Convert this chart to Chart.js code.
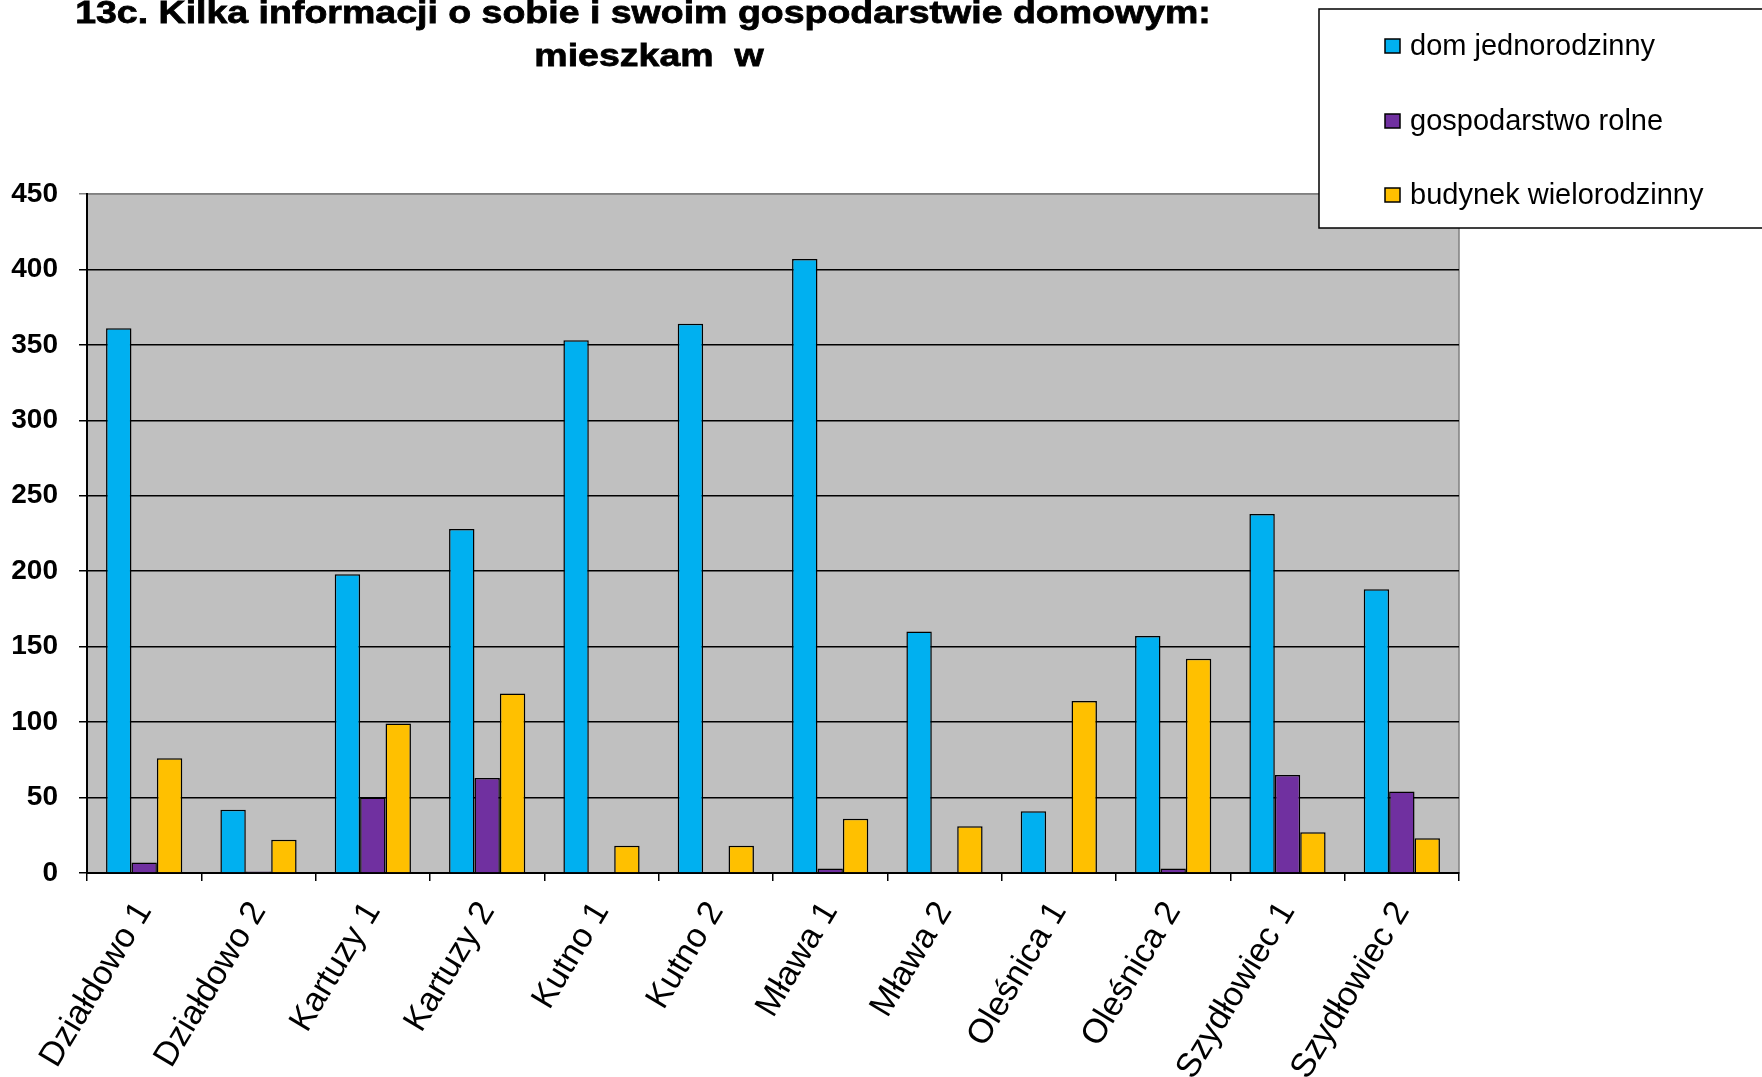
<!DOCTYPE html>
<html>
<head>
<meta charset="utf-8">
<script src="https://cdn.jsdelivr.net/npm/chart.js@4/dist/chart.umd.min.js"></script>
<style>
  html, body { margin: 0; padding: 0; background: #ffffff; }
  canvas { display: block; }
</style>
</head>
<body>
<canvas id="c" width="1762" height="1077"></canvas>
<script>
const TITLE_LINES = ["13c. Kilka informacji o sobie i swoim gospodarstwie domowym:", "mieszkam  w"];
const CATEGORIES = ["Działdowo 1", "Działdowo 2", "Kartuzy 1", "Kartuzy 2", "Kutno 1", "Kutno 2", "Mława 1", "Mława 2", "Oleśnica 1", "Oleśnica 2", "Szydłowiec 1", "Szydłowiec 2"];
const SERIES_NAMES = ["dom jednorodzinny", "gospodarstwo rolne", "budynek wielorodzinny"];
const DOM_JEDNORODZINNY = [361, 42, 198, 228, 353, 364, 407, 160, 41, 157, 238, 188];
const GOSPODARSTWO_ROLNE = [7, 1, 50, 63, 0, 0, 3, 0, 0, 3, 65, 54];
const BUDYNEK_WIELORODZINNY = [76, 22, 99, 119, 18, 18, 36, 31, 114, 142, 27, 23];
const Y_MIN = 0, Y_MAX = 450, Y_STEP = 50;

const COLORS = ["#00B0F0", "#7030A0", "#FFC000"];
const FONT = '"Liberation Sans", Arial, sans-serif';

const plotBg = {
  id: 'plotBg',
  beforeDraw(chart) {
    const a = chart.chartArea, ctx = chart.ctx;
    ctx.save();
    ctx.fillStyle = '#C0C0C0';
    ctx.fillRect(a.left, a.top, a.right - a.left, a.bottom - a.top);
    ctx.strokeStyle = '#808080';
    ctx.lineWidth = 1.5;
    ctx.strokeRect(a.left, a.top, a.right - a.left, a.bottom - a.top);
    ctx.restore();
  }
};

const titlePlugin = {
  id: 'titleText',
  afterDraw(chart) {
    const ctx = chart.ctx;
    ctx.save();
    ctx.font = 'bold 37.5px ' + FONT;
    ctx.fillStyle = '#000';
    ctx.strokeStyle = '#000';
    ctx.lineWidth = 0.9;
    ctx.textAlign = 'center';
    ctx.textBaseline = 'alphabetic';
    ctx.scale(1, 0.86);
    const pos = [[643, 23], [649, 66]];
    TITLE_LINES.forEach((t, i) => {
      ctx.fillText(t, pos[i][0], pos[i][1] / 0.86);
      ctx.strokeText(t, pos[i][0], pos[i][1] / 0.86);
    });
    ctx.restore();
  }
};

const legendPlugin = {
  id: 'boxLegend',
  afterDraw(chart) {
    const ctx = chart.ctx;
    ctx.save();
    ctx.fillStyle = '#ffffff';
    ctx.fillRect(1319, 9, 460, 219);
    ctx.strokeStyle = '#000';
    ctx.lineWidth = 1.5;
    ctx.strokeRect(1319, 9, 460, 219);
    ctx.font = '29px ' + FONT;
    ctx.textAlign = 'left';
    ctx.textBaseline = 'alphabetic';
    const baselines = [55, 130, 204];
    chart.data.datasets.forEach((ds, i) => {
      const b = baselines[i];
      ctx.fillStyle = ds.backgroundColor;
      ctx.fillRect(1385, b - 16, 15, 14);
      ctx.strokeStyle = '#000';
      ctx.lineWidth = 1.5;
      ctx.strokeRect(1385, b - 16, 15, 14);
      ctx.fillStyle = '#000';
      ctx.fillText(ds.label, 1410, b);
    });
    ctx.restore();
  }
};

const datasets = [DOM_JEDNORODZINNY, GOSPODARSTWO_ROLNE, BUDYNEK_WIELORODZINNY].map((arr, i) => ({
  label: SERIES_NAMES[i],
  data: arr,
  backgroundColor: COLORS[i],
  borderColor: '#000',
  borderWidth: 1.5,
  borderSkipped: 'bottom',
  barPercentage: 1.0,
  categoryPercentage: 3 / 4.5
}));

new Chart(document.getElementById('c'), {
  type: 'bar',
  data: { labels: CATEGORIES, datasets },
  options: {
    responsive: false,
    animation: false,
    devicePixelRatio: 1,
    layout: { padding: { top: 194, right: 303, bottom: 0, left: 0 } },
    plugins: {
      legend: { display: false },
      title: { display: false },
      tooltip: { enabled: false }
    },
    scales: {
      x: {
        offset: true,
        grid: {
          display: true,
          drawOnChartArea: false,
          drawTicks: true,
          tickLength: 8,
          color: '#000',
          lineWidth: 1.5,
          offset: true
        },
        border: { display: true, color: '#000', width: 2 },
        ticks: {
          autoSkip: false,
          maxRotation: 59,
          minRotation: 59,
          padding: 14,
          color: '#000',
          font: { family: FONT, size: 34 }
        },
        afterFit(scale) { scale.height = 1077 - 873; }
      },
      y: {
        min: Y_MIN,
        max: Y_MAX,
        ticks: {
          stepSize: Y_STEP,
          padding: 21,
          color: '#000',
          font: { family: FONT, size: 28, weight: 'bold' }
        },
        grid: {
          drawTicks: true,
          tickLength: 8,
          color: (c) => (c.tick && c.tick.value === Y_MAX) ? '#808080' : '#000',
          lineWidth: 1.5
        },
        border: { display: true, color: '#000', width: 2 },
        afterFit(scale) { scale.width = 87; }
      }
    }
  },
  plugins: [plotBg, titlePlugin, legendPlugin]
});
</script>
</body>
</html>
